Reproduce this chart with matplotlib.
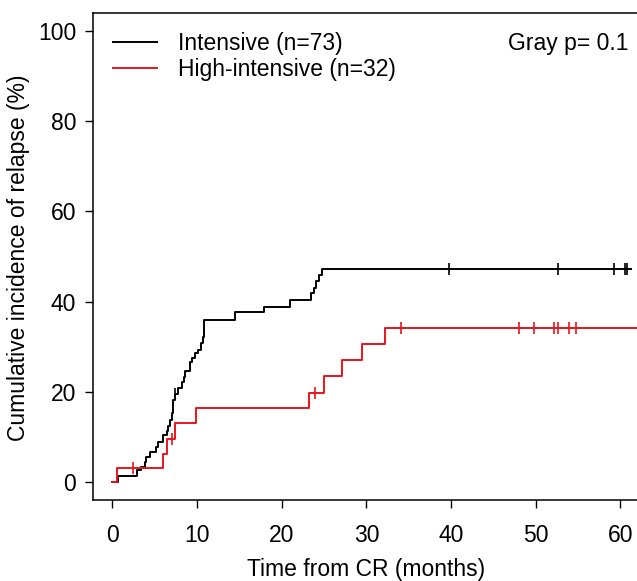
import matplotlib
matplotlib.use("Agg")
import matplotlib.pyplot as plt
import numpy as np

plt.rcParams['font.family'] = ['Liberation Sans', 'DejaVu Sans']

# ---- data ----
black_times = [0.0, 0.6, 2.9, 3.4, 3.8, 4.0, 4.4, 5.2, 5.4, 6.0, 6.4, 6.6, 6.8, 7.0, 7.2,
               7.4, 7.8, 8.2, 8.4, 8.6, 9.15, 9.35, 9.74, 10.1, 10.5, 10.7, 10.8,
               14.5, 17.9, 21.0, 23.4, 23.8, 24.1, 24.4, 24.8, 61.2]
black_vals = [0.0, 1.4, 2.6, 3.3, 4.5, 5.6, 6.7, 7.8, 8.9, 10.4, 11.2, 12.3, 13.7, 15.2, 18.2,
              19.5, 20.8, 22.2, 23.3, 24.5, 26.7, 27.4, 28.5, 29.3, 30.8, 32.2, 36.0,
              37.6, 38.9, 40.4, 41.8, 43.1, 44.5, 45.9, 47.2, 47.2]
black_censor_t = [7.4, 39.8, 52.6, 59.2, 60.5, 60.8]

red_times = [0.0, 0.55, 6.0, 6.5, 7.4, 9.9, 23.2, 25.0, 27.1, 29.5, 32.2, 65.0]
red_vals = [0.0, 3.1, 6.3, 9.6, 13.0, 16.3, 19.8, 23.5, 27.0, 30.6, 34.1, 34.1]
red_censor_t = [2.4, 7.0, 23.9, 34.1, 48.0, 49.8, 52.2, 52.6, 53.9, 54.8]

labels = ["Intensive (n=73)", "High-intensive (n=32)"]
colors = ["black", "#e8141c"]
x_ticks = [0, 10, 20, 30, 40, 50, 60]
y_ticks = [0, 20, 40, 60, 80, 100]
p_text = "Gray p= 0.1"

def step_value(ts, vs, t):
    idx = np.searchsorted(ts, t, side='right') - 1
    return vs[idx]

W, H = 637, 581
fig = plt.figure(figsize=(W / 100, H / 100), dpi=100)
ax = fig.add_axes([93 / W, 1 - 500 / H, (650 - 93) / W, (500 - 13) / H])

fs = 16.5
lines = []
for ts, vs, ct, col, lab in [(black_times, black_vals, black_censor_t, colors[0], labels[0]),
                             (red_times, red_vals, red_censor_t, colors[1], labels[1])]:
    ln, = ax.step(ts, vs, where='post', color=col, lw=1.4, label=lab)
    lines.append(ln)
    cy = [step_value(ts, vs, t) for t in ct]
    ax.plot(ct, cy, linestyle='none', marker='|', ms=9, mew=1.2, color=col)

ax.set_xlim(-2.3, 63.5)
ax.set_ylim(-4, 104)
ax.set_xticks(x_ticks)
ax.set_yticks(y_ticks)
ax.tick_params(direction='out', length=6, width=1, labelsize=fs, colors='black')
ax.tick_params(axis='x', pad=11)
ax.tick_params(axis='y', pad=6)
for s in ax.spines.values():
    s.set_linewidth(1.1)

leg = ax.legend(handles=lines, loc='upper left', bbox_to_anchor=(113 / W, 1 - 32 / H),
                bbox_transform=fig.transFigure, frameon=False, fontsize=fs,
                handlelength=1.92, handletextpad=0.92, labelspacing=0.15, borderpad=0,
                borderaxespad=0)

fig.text(508 / W, 1 - 50 / H, p_text, ha='left', va='baseline', fontsize=fs)
fig.text(366 / W, 1 - 576 / H, "Time from CR (months)", ha='center', va='baseline', fontsize=fs)
fig.text(19 / W, 1 - 258 / H, "Cumulative incidence of relapse (%)", ha='center', va='center',
         rotation=90, fontsize=fs)

fig.savefig("out.png", dpi=100)
